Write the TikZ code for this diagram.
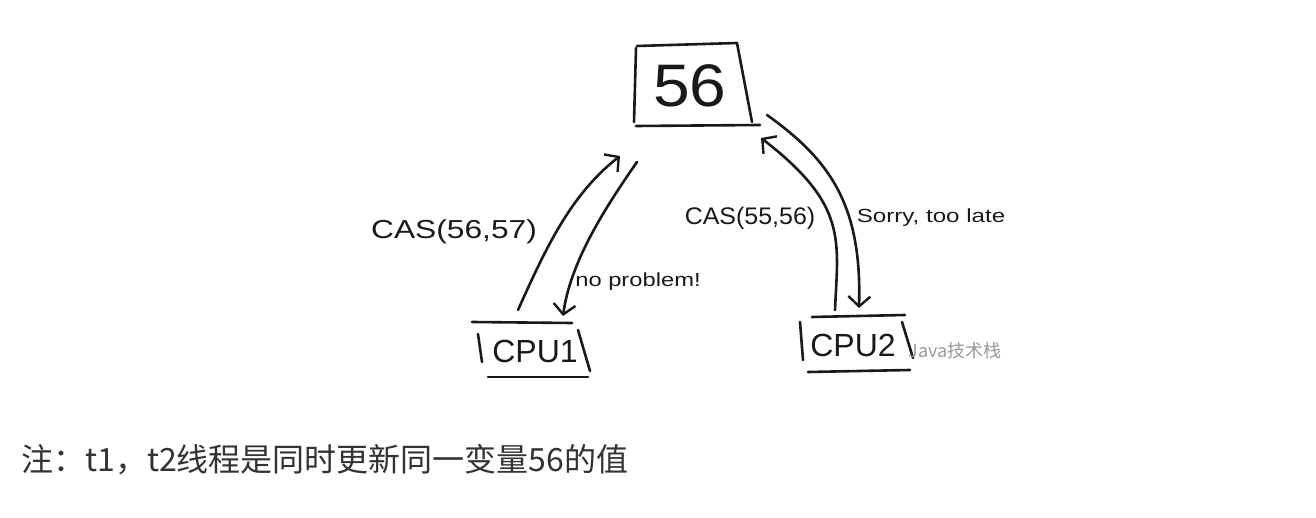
\documentclass[tikz,border=0pt]{standalone}
\usepackage{fontspec}
\setmainfont{Liberation Sans}
\newfontfamily\cjk{Noto Sans CJK SC}
\usetikzlibrary{arrows.meta}
\begin{document}
\begin{tikzpicture}[x=1pt,y=-1pt,
  pen/.style={line width=2.6pt,line cap=round,line join=round,black!90},
  arr/.style={pen,-{Straight Barb[length=10pt,width=22pt,line width=2.4pt]}},
  lbl/.style={inner sep=0pt,text=black!90}]
\useasboundingbox (0,0) rectangle (1316,518);
% box 56
\node[lbl,font=\fontsize{60}{62}\selectfont] (v) at (690,86) {\scalebox{1.1}[1]{56}};
\draw[pen] (636,48) -- (634,122);
\draw[pen] (637,46) -- (737,43) -- (752,122);
\draw[pen] (636,126) -- (760,125);
% CPU1
\node[lbl,font=\fontsize{32}{34}\selectfont] (c1) at (535,351) {CPU1};
\draw[pen] (472,322) -- (572,323);
\draw[pen] (478,334) -- (482,362);
\draw[pen] (578,330) -- (590,371);
\draw[pen] (488,377) -- (588,377);
% CPU2
\node[lbl,font=\fontsize{32}{34}\selectfont] (c2) at (853,345) {CPU2};
\draw[pen] (812,317) -- (905,315);
\draw[pen] (800,322) -- (803,360);
\draw[pen] (902,322) -- (913,358);
\draw[pen] (808,372) -- (910,370);
% watermark
\node[lbl,text=black!40,font=\cjk\fontsize{18}{20}\selectfont] (wm) at (955,351) {Java技术栈};
% arrows
\coordinate (a1s) at (518,310);
\coordinate (a1e) at (620,156);
\draw[arr] (a1s) .. controls (545,250) and (570,195) .. (a1e);
\coordinate (r1s) at (637,162);
\coordinate (r1e) at (563,316);
\draw[arr] (r1s) .. controls (600,215) and (570,265) .. (r1e);
\coordinate (a2s) at (835,310);
\coordinate (a2e) at (761,138);
\draw[arr] (a2s) .. controls (838,240) and (848,205) .. (a2e);
\coordinate (r2s) at (767,115);
\coordinate (r2e) at (859,308);
\draw[arr] (r2s) .. controls (830,160) and (862,205) .. (r2e);
% labels
\node[lbl,font=\fontsize{26}{28}\selectfont] (l1) at (454,232) {\scalebox{1.22}[1]{CAS(56,57)}};
\node[lbl,font=\fontsize{19}{20}\selectfont] (l2) at (638,282) {\scalebox{1.25}[1]{no problem!}};
\node[lbl,font=\fontsize{24}{26}\selectfont] (l3) at (750,218) {\scalebox{1.04}[1]{CAS(55,56)}};
\node[lbl,font=\fontsize{19}{20}\selectfont] (l4) at (931,218) {\scalebox{1.27}[1]{Sorry, too late}};
% note
\node[lbl,anchor=west,text=black!80,font=\cjk\fontsize{32}{34}\selectfont] (note) at (21,460) {注：t1，t2线程是同时更新同一变量56的值};
\end{tikzpicture}
\end{document}
